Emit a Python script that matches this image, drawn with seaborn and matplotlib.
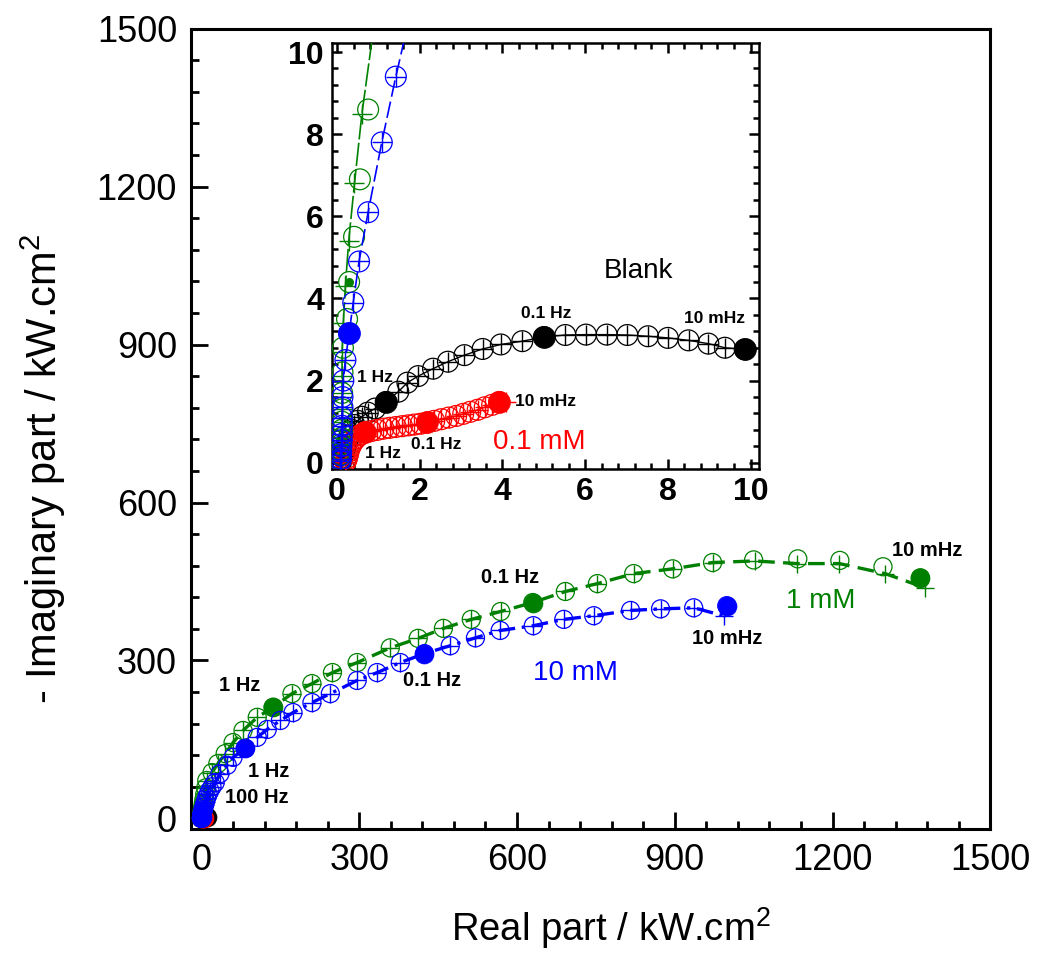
import matplotlib
matplotlib.use("Agg")
import matplotlib.pyplot as plt
from matplotlib.ticker import MultipleLocator
import seaborn as sns

# === DATA, high -> low frequency ===
# 1 mM (green): measured points and fit points
green_x = [0.08, 0.09, 0.09, 0.1, 0.1, 0.11, 0.11, 0.12, 0.12, 0.13, 0.14, 0.24, 0.29, 0.41, 0.55, 0.75,
           1.05, 1.4, 1.9, 2.5, 3.4, 4.6, 6.2, 8.0, 10, 20, 31, 45, 60, 79, 106, 136, 172, 210, 249, 296,
           359, 412, 460, 513, 569, 630, 692, 753, 822, 896, 972, 1050, 1134, 1214, 1296, 1367]
green_y = [0.1, 0.2, 0.32, 0.45, 0.6, 0.8, 1.0, 1.3, 1.7, 2.2, 2.8, 3.5, 4.4, 5.5, 6.9, 8.6,
           10.9, 13.6, 17, 22, 28, 36, 46, 58, 72, 87, 104, 123, 144, 167, 192, 211, 237, 256, 277, 296,
           324, 342, 361, 378, 393, 410, 431, 446, 465, 474, 486, 491, 493, 490, 478, 457]
green_fit_x = [0.08, 0.09, 0.09, 0.1, 0.1, 0.11, 0.11, 0.12, 0.12, 0.12, 0.12, 0.15, 0.2, 0.28, 0.42, 0.6,
               0.9, 1.25, 1.75, 2.4, 3.3, 4.5, 6.1, 7.9, 10, 20, 31, 45, 60, 79, 106, 136, 172, 210, 249, 296,
               359, 412, 460, 513, 569, 630, 692, 753, 822, 896, 972, 1052, 1133, 1213, 1300, 1376]
green_fit_y = [0.1, 0.2, 0.32, 0.45, 0.6, 0.8, 1.0, 1.3, 1.7, 2.1, 2.7, 3.4, 4.3, 5.4, 6.8, 8.5,
               10.7, 13.4, 17, 22, 28, 36, 46, 58, 72, 87, 104, 123, 144, 167, 192, 211, 237, 256, 277, 296,
               324, 342, 361, 378, 393, 410, 431, 446, 465, 474, 486, 489, 484, 484, 465, 438]
green_filled = [31, 41, 51]          # 1 Hz, 0.1 Hz, 10 mHz

# 10 mM (blue)
blue_x = [0.08, 0.09, 0.09, 0.1, 0.1, 0.11, 0.11, 0.12, 0.12, 0.13, 0.13, 0.15, 0.2, 0.29, 0.39, 0.53,
          0.75, 1.08, 1.42, 1.9, 2.5, 3.3, 4.4, 5.8, 7.6, 9.8, 12.6, 16, 20, 26, 35, 49, 60, 83, 106, 125,
          150, 174, 210, 245, 296, 334, 378, 424, 473, 521, 568, 631, 689, 746, 816, 873, 936, 999]
blue_y = [0.05, 0.1, 0.18, 0.28, 0.4, 0.55, 0.7, 0.9, 1.1, 1.35, 1.6, 2.0, 2.5, 3.15, 3.9, 4.9,
          6.1, 7.8, 9.4, 11.5, 14, 17, 21, 26, 32, 39, 46, 53, 60, 68, 85, 101, 116, 133, 154, 169,
          186, 201, 220, 237, 262, 277, 296, 313, 328, 343, 357, 366, 378, 385, 395, 398, 400, 404]
blue_fit_x = blue_x[:-1] + [993]
blue_fit_y = blue_y[:-1] + [385]
blue_filled = [13, 33, 43, 53]       # 100 Hz, 1 Hz, 0.1 Hz, 10 mHz

# Blank (black)
black_x = [0.1, 0.11, 0.13, 0.16, 0.2, 0.25, 0.3, 0.36, 0.42, 0.5, 0.6, 0.74, 0.92, 1.18, 1.48, 1.70,
           1.96, 2.32, 2.68, 3.08, 3.52, 3.96, 4.48, 5.0, 5.52, 6.02, 6.52, 7.02, 7.52, 8.0, 8.5, 8.98,
           9.38, 9.86]
black_y = [0.03, 0.08, 0.14, 0.22, 0.35, 0.5, 0.65, 0.8, 0.92, 1.02, 1.12, 1.22, 1.32, 1.48, 1.73, 1.95,
           2.11, 2.29, 2.46, 2.62, 2.77, 2.88, 2.96, 3.06, 3.11, 3.12, 3.12, 3.11, 3.08, 3.04, 2.98, 2.90,
           2.80, 2.76]
black_filled = [13, 23, 33]

# 0.1 mM (red)
red_x = [0.2, 0.22, 0.24, 0.26, 0.28, 0.31, 0.35, 0.4, 0.46, 0.55, 0.67, 0.82, 0.97, 1.12, 1.27, 1.42,
         1.57, 1.72, 1.87, 2.02, 2.17, 2.35, 2.52, 2.7, 2.88, 3.05, 3.22, 3.4, 3.57, 3.75, 3.92]
red_y = [0.02, 0.06, 0.12, 0.2, 0.28, 0.37, 0.45, 0.53, 0.6, 0.67, 0.74, 0.77, 0.8, 0.83, 0.85, 0.87,
         0.89, 0.91, 0.93, 0.95, 0.98, 1.02, 1.06, 1.1, 1.14, 1.19, 1.24, 1.29, 1.35, 1.41, 1.48]
red_fit_x = red_x[:-1] + [4.08]
red_fit_y = red_y[:-1] + [1.49]
red_filled = [10, 20, 30]

GREEN, BLUE, RED, BLACK = "#008000", "#0000FF", "#FF0000", "#000000"

sns.set_style("ticks")
plt.rcParams["font.family"] = ["Liberation Sans", "DejaVu Sans"]
plt.rcParams["mathtext.fontset"] = "custom"
plt.rcParams["mathtext.rm"] = "Liberation Sans"
for k in ["text.color", "axes.labelcolor", "xtick.color", "ytick.color", "axes.edgecolor"]:
    plt.rcParams[k] = "black"


def draw_series(ax, x, y, fx, fy, filled, color, ls, lw, ms, z):
    # fit line + crosses, then measured circles, then the marked frequencies
    sns.lineplot(x=fx, y=fy, sort=False, estimator=None, ax=ax, color=color,
                 linewidth=lw, linestyle=ls, zorder=z)
    sns.scatterplot(x=fx, y=fy, marker="+", s=ms ** 2, color=color, linewidth=1.0,
                    ax=ax, zorder=z + 0.1)
    sns.scatterplot(x=x, y=y, marker="o", s=ms ** 2, facecolor="none", edgecolor=color,
                    linewidth=0.9, ax=ax, zorder=z + 0.2)
    sns.scatterplot(x=[x[i] for i in filled], y=[y[i] for i in filled], marker="o",
                    s=(ms * 1.05) ** 2, color=color, edgecolor=color, linewidth=0.5,
                    ax=ax, zorder=z + 0.3)


fig = plt.figure(figsize=(10.38, 9.55), dpi=100)

# ---------- main plot ----------
ax = fig.add_axes([0.184, 0.132, 0.770, 0.838])
draw_series(ax, black_x, black_y, black_x, black_y, black_filled, BLACK, "-", 1.0, 13, 2)
draw_series(ax, red_x, red_y, red_fit_x, red_fit_y, red_filled, RED, "-", 1.0, 13, 3)
draw_series(ax, green_x, green_y, green_fit_x, green_fit_y, green_filled, GREEN,
            (0, (5, 2.5)), 2.4, 13, 4)
draw_series(ax, blue_x, blue_y, blue_fit_x, blue_fit_y, blue_filled, BLUE,
            (0, (5, 2, 1, 2)), 2.4, 13, 5)

ax.set_xlim(-20, 1500)
ax.set_ylim(-20, 1500)
ax.xaxis.set_major_locator(MultipleLocator(300))
ax.xaxis.set_minor_locator(MultipleLocator(60))
ax.yaxis.set_major_locator(MultipleLocator(300))
ax.yaxis.set_minor_locator(MultipleLocator(60))
ax.tick_params(which="both", direction="in", labelsize=26, width=2, pad=10)
ax.tick_params(which="major", length=12)
ax.tick_params(which="minor", length=6)
for s in ax.spines.values():
    s.set_linewidth(2.2)
ax.set_xlabel(r"Real part / kW.cm$^2$", fontsize=27.5, labelpad=20)
ax.set_ylabel(r"- Imaginary part / kW.cm$^2$", fontsize=30, labelpad=21)
ax.xaxis.label.set_x(0.525)
ax.yaxis.label.set_y(0.45)

fkw = dict(fontsize=14.5, fontweight="bold", ha="center", va="center", zorder=10)
ax.text(73, 252, "1 Hz", **fkw)
ax.text(127, 89, "1 Hz", **fkw)
ax.text(105, 40, "100 Hz", **fkw)
ax.text(438, 262, "0.1 Hz", **fkw)
ax.text(587, 457, "0.1 Hz", **fkw)
ax.text(999, 341, "10 mHz", **fkw)
ax.text(1380, 509, "10 mHz", **fkw)
ax.text(1177, 412, "1 mM", fontsize=20, color=GREEN, ha="center", va="center")
ax.text(712, 277, "10 mM", fontsize=20, color=BLUE, ha="center", va="center")

# ---------- inset ----------
ins = fig.add_axes([0.320, 0.509, 0.411, 0.446])
ins.set_facecolor("white")
draw_series(ins, black_x, black_y, black_x, black_y, black_filled, BLACK, "-", 1.0, 15, 2)
draw_series(ins, red_x, red_y, red_fit_x, red_fit_y, red_filled, RED, "-", 1.0, 15, 3)
draw_series(ins, green_x, green_y, green_fit_x, green_fit_y, green_filled, GREEN,
            (0, (14, 2)), 1.2, 15, 4)
draw_series(ins, blue_x, blue_y, blue_fit_x, blue_fit_y, blue_filled, BLUE,
            (0, (10, 3)), 1.2, 15, 5)
ins.scatter(green_x[12], green_y[12], s=30, color=GREEN, zorder=6)

ins.set_xlim(-0.12, 10.2)
ins.set_ylim(-0.15, 10.22)
ins.xaxis.set_major_locator(MultipleLocator(2))
ins.xaxis.set_minor_locator(MultipleLocator(0.4))
ins.yaxis.set_major_locator(MultipleLocator(2))
ins.yaxis.set_minor_locator(MultipleLocator(0.4))
ins.tick_params(which="both", direction="in", labelsize=23, width=1.8, pad=6,
                right=True, top=True)
ins.tick_params(which="major", length=7)
ins.tick_params(which="minor", length=4)
for lab in ins.get_xticklabels() + ins.get_yticklabels():
    lab.set_fontweight("bold")
for s in ins.spines.values():
    s.set_linewidth(1.8)
ins.set_xlabel("")
ins.set_ylabel("")

ikw = dict(fontsize=12.5, fontweight="bold", ha="center", va="center", zorder=10)
ins.text(5.06, 3.63, "0.1 Hz", **ikw)
ins.text(9.14, 3.51, "10 mHz", **ikw)
ins.text(0.91, 2.07, "1 Hz", **ikw)
ins.text(5.04, 1.49, "10 mHz", **ikw)
ins.text(2.40, 0.44, "0.1 Hz", **ikw)
ins.text(1.10, 0.22, "1 Hz", **ikw)
ins.text(7.28, 4.68, "Blank", fontsize=20, ha="center", va="center")
ins.text(4.89, 0.51, "0.1 mM", fontsize=20, color=RED, ha="center", va="center")

fig.savefig("out.png", dpi=100)
